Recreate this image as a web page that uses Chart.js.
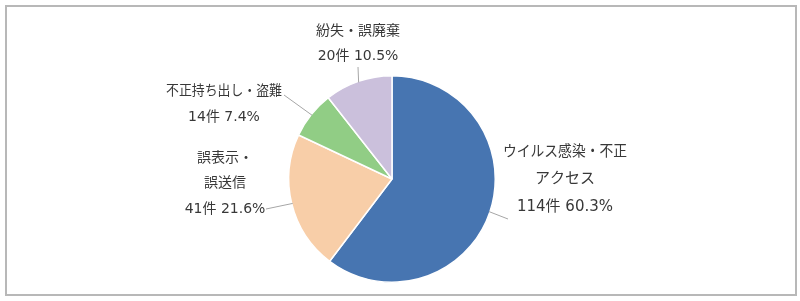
<!DOCTYPE html>
<html>
<head>
<meta charset="utf-8">
<script src="https://cdn.jsdelivr.net/npm/chart.js@4"></script>
<style>
  body { margin: 0; background: #fff; }
  #frame {
    position: absolute; left: 5px; top: 5px;
    width: 788px; height: 287px;
    border: 2px solid #b8b8b8;
  }
  #pie { position: absolute; left: 0; top: 0; }
</style>
</head>
<body>
<div id="frame"></div>
<canvas id="pie" width="800" height="301"></canvas>
<script>
// data
var categories = [
    ['ウイルス感染・不正', 'アクセス'],
    ['誤表示・', '誤送信'],
    ['不正持ち出し・盗難'],
    ['紛失・誤廃棄']
];
var counts = [114, 41, 14, 20];
var percents = [60.3, 21.6, 7.4, 10.5];

var sliceColors = ['#4775b1', '#f8cea8', '#91cd85', '#cbc0dc'];

// where each label sits and where its leader line starts
var labelLayout = [
    { x: 565, ys: [152, 179, 207], from: [508, 219], size: 15, maxW: 124 },
    { x: 225, ys: [158, 183, 209], from: [266, 209], size: 14, maxW: 0 },
    { x: 224, ys: [91, 117], from: [284, 95], size: 14, maxW: 116 },
    { x: 358, ys: [31, 56], from: [358, 67], size: 14, maxW: 0 }
];

var pieLabels = {
    id: 'pieLabels',
    afterDraw: function (chart) {
        var ctx = chart.ctx;
        var meta = chart.getDatasetMeta(0);
        ctx.save();
        ctx.fillStyle = '#383838';
        ctx.textAlign = 'center';
        ctx.textBaseline = 'middle';
        meta.data.forEach(function (arc, i) {
            var p = arc.getProps(['x', 'y', 'startAngle', 'endAngle', 'outerRadius'], true);
            var mid = (p.startAngle + p.endAngle) / 2;
            var ex = p.x + Math.cos(mid) * (p.outerRadius - 1);
            var ey = p.y + Math.sin(mid) * (p.outerRadius - 1);
            var lay = labelLayout[i];

            ctx.strokeStyle = '#a6a6a6';
            ctx.lineWidth = 1;
            ctx.beginPath();
            ctx.moveTo(lay.from[0], lay.from[1]);
            ctx.lineTo(ex, ey);
            ctx.stroke();

            ctx.font = lay.size + 'px "DejaVu Sans", "Noto Sans CJK JP", sans-serif';
            var lines = categories[i].concat([counts[i] + '件 ' + percents[i].toFixed(1) + '%']);
            lines.forEach(function (t, j) {
                if (j === 0 && lay.maxW) {
                    ctx.fillText(t, lay.x, lay.ys[j], lay.maxW);
                } else {
                    ctx.fillText(t, lay.x, lay.ys[j]);
                }
            });
        });
        ctx.restore();
    }
};

var pieChart = new Chart(document.getElementById('pie').getContext('2d'), {
    type: 'pie',
    data: {
        labels: categories.map(function (c) { return c.join(''); }),
        datasets: [{
            data: counts,
            backgroundColor: sliceColors,
            borderColor: '#ffffff',
            borderWidth: 1.5,
            hoverOffset: 0,
            offset: 0
        }]
    },
    options: {
        responsive: false,
        animation: false,
        devicePixelRatio: 1,
        layout: { padding: { top: 75, bottom: 18, left: 0, right: 16 } },
        plugins: {
            legend: { display: false },
            tooltip: { enabled: false }
        }
    },
    plugins: [pieLabels]
});
</script>
</body>
</html>
